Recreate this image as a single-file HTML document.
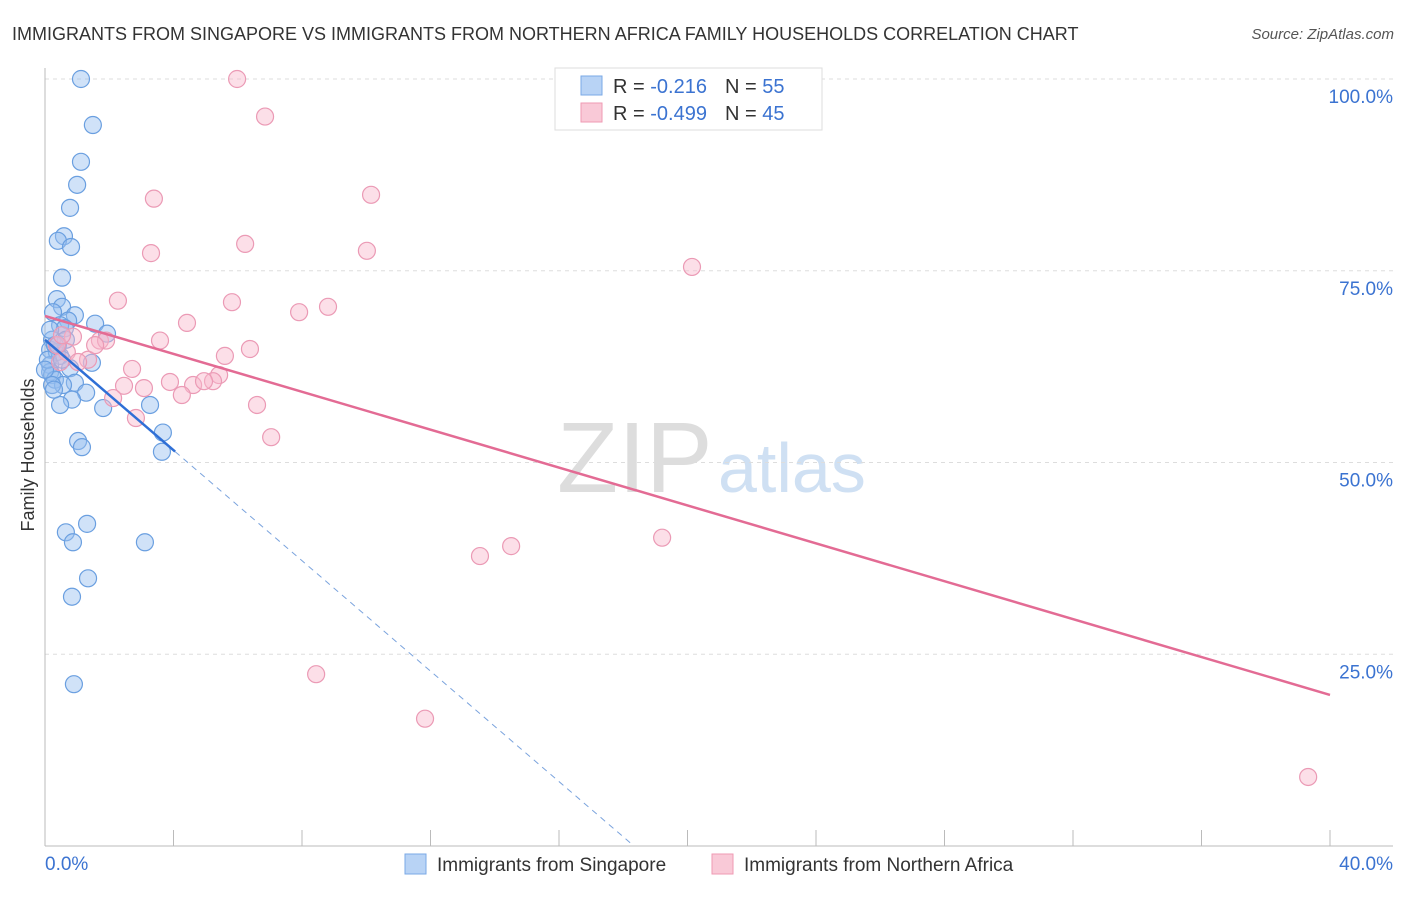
<!DOCTYPE html>
<html><head><meta charset="utf-8"><style>
body{margin:0;background:#fff;font-family:"Liberation Sans",sans-serif;}
svg text{font-family:"Liberation Sans",sans-serif;}
</style></head><body>
<svg id="chart" width="1406" height="892">
<text x="12" y="40" font-size="18" fill="#333">IMMIGRANTS FROM SINGAPORE VS IMMIGRANTS FROM NORTHERN AFRICA FAMILY HOUSEHOLDS CORRELATION CHART</text>
<text x="1394" y="39" font-size="15" fill="#555" font-style="italic" text-anchor="end">Source: ZipAtlas.com</text>
<text x="557" y="492" font-size="100" fill="#ddd" font-family="Liberation Serif">ZIP</text>
<text x="718" y="492" font-size="70" fill="#cfe0f3">atlas</text>
<text transform="translate(34,455) rotate(-90)" font-size="18" fill="#333" text-anchor="middle">Family Households</text>
<g id="grid"></g><g id="marks"></g>
<g>
<rect x="555" y="68" width="267" height="62" fill="#fff" stroke="#ddd"/>
<rect x="581" y="76" width="21" height="19" fill="#b8d3f5" stroke="#7aa8e6"/>
<rect x="581" y="103" width="21" height="19" fill="#f9c9d7" stroke="#ef9ab3"/>
<text x="613" y="93" font-size="20" fill="#333">R = <tspan fill="#3b73d1"> -0.216</tspan><tspan dx="18">N = </tspan><tspan fill="#3b73d1">55</tspan></text>
<text x="613" y="120" font-size="20" fill="#333">R = <tspan fill="#3b73d1">-0.499</tspan><tspan dx="18">N = </tspan><tspan fill="#3b73d1">45</tspan></text>
</g>
<g>
<rect x="405" y="854" width="21" height="20" fill="#b8d3f5" stroke="#7aa8e6"/>
<text x="437" y="871" font-size="19" fill="#333">Immigrants from Singapore</text>
<rect x="712" y="854" width="21" height="20" fill="#f9c9d7" stroke="#ef9ab3"/>
<text x="744" y="871" font-size="19" fill="#333">Immigrants from Northern Africa</text>
</g>
</svg>
<script>
const xTickLabels=["0.0%","40.0%"];
const yTicks=[25,50,75,100];
const blueX=[1.12,1.49,1.12,1.0,0.78,0.59,0.40,0.81,0.53,0.37,0.53,0.25,0.93,0.72,1.56,0.47,0.62,1.93,0.22,0.65,0.16,0.37,0.47,1.46,0.16,0.78,0.16,0.22,0.31,0.93,0.56,0.22,1.28,0.84,3.27,0.47,1.81,3.67,1.03,1.15,3.64,0.65,1.31,0.87,3.11,1.34,0.84,0.90,0.31,0.09,0.40,0.16,0.53,0.28,0];
const blueY=[100,94.0,89.2,86.2,83.2,79.5,78.9,78.1,74.1,71.3,70.3,69.6,69.2,68.5,68.1,67.9,67.5,66.8,66.0,66.0,64.7,64.4,63.9,63.0,62.7,62.3,61.8,61.4,60.8,60.4,60.1,60.1,59.1,58.2,57.5,57.5,57.1,53.9,52.8,52.0,51.4,40.9,42.0,39.6,39.6,34.9,32.5,21.1,65.3,63.4,65.3,67.3,63.4,59.5,62.1];
const pinkX=[5.98,6.85,10.15,3.39,6.23,10.02,3.30,20.14,2.27,5.82,7.91,8.81,4.42,3.58,1.71,0.87,6.38,5.60,0.68,1.34,1.90,0.47,2.71,5.42,3.89,2.46,3.08,4.61,5.23,4.95,4.26,2.12,6.60,2.83,7.04,19.21,14.51,13.54,8.44,11.83,39.32,0.37,0.53,1.56,1.03];
const pinkY=[100,95.1,84.9,84.4,78.5,77.6,77.3,75.5,71.1,70.9,69.6,70.3,68.2,65.9,65.9,66.4,64.8,63.9,64.4,63.4,65.9,63.1,62.2,61.4,60.5,60.0,59.7,60.1,60.6,60.6,58.8,58.4,57.5,55.8,53.3,40.2,39.1,37.8,22.4,16.6,9.0,65.3,66.6,65.3,63.1];
const blueTrend=[66.0,-3.6];
const pinkTrend=[69.1,-1.235];
const NS="http://www.w3.org/2000/svg";
const X0=45,X1=1330,Y0=846,Y100=79;
const sx=v=>X0+(v/40)*(X1-X0);
const sy=v=>Y0-(v/100)*(Y0-Y100);
function mk(tag,attrs,parent){const e=document.createElementNS(NS,tag);for(const k in attrs)e.setAttribute(k,attrs[k]);parent.appendChild(e);return e;}
const grid=document.getElementById('grid'),marks=document.getElementById('marks');
yTicks.forEach(t=>{
 const l=mk('line',{x1:X0,x2:1393,y1:sy(t),y2:sy(t),stroke:'#ddd','stroke-dasharray':'4,4'},grid);
 
 
 const tx=mk('text',{x:1393,y:sy(t)+24,'font-size':19,fill:'#3b73d1','text-anchor':'end'},grid);
 tx.textContent=t.toFixed(1)+'%';
 
 
});
const ax=mk('line',{x1:X0,x2:X0,y1:68,y2:Y0,stroke:'#bbb'},grid);


const bx=mk('line',{x1:X0,x2:1393,y1:Y0,y2:Y0,stroke:'#bbb'},grid);


for(let i=1;i<=10;i++){
 const t=mk('line',{x1:sx(i*4),x2:sx(i*4),y1:Y0-16,y2:Y0,stroke:'#bbb'},grid);
 
 
}
const xl0=mk('text',{x:45,y:870,'font-size':19,fill:'#3b73d1'},grid);xl0.textContent=xTickLabels[0];


const xl1=mk('text',{x:1393,y:870,'font-size':19,fill:'#3b73d1','text-anchor':'end'},grid);xl1.textContent=xTickLabels[1];


blueX.forEach((x,i)=>{
 const c=mk('circle',{cx:sx(x),cy:sy(blueY[i]),r:8.5,fill:'rgba(150,190,240,0.45)',stroke:'#6a9fe0','stroke-width':1.2},marks);
 
 
});
pinkX.forEach((x,i)=>{
 const c=mk('circle',{cx:sx(x),cy:sy(pinkY[i]),r:8.5,fill:'rgba(248,185,205,0.45)',stroke:'#eb9ab5','stroke-width':1.2},marks);
 
 
});
const bEnd=4.05, bZero=-blueTrend[0]/blueTrend[1];
const bl=mk('line',{x1:sx(0),y1:sy(blueTrend[0]),x2:sx(bEnd),y2:sy(blueTrend[0]+blueTrend[1]*bEnd),stroke:'#2f6fd6','stroke-width':2.5},marks);


const bd=mk('line',{x1:sx(bEnd),y1:sy(blueTrend[0]+blueTrend[1]*bEnd),x2:sx(bZero),y2:sy(0),stroke:'#7aa3dd','stroke-width':1,'stroke-dasharray':'6,5'},marks);


const pl=mk('line',{x1:sx(0),y1:sy(pinkTrend[0]),x2:sx(40),y2:sy(pinkTrend[0]+pinkTrend[1]*40),stroke:'#e36b94','stroke-width':2.5},marks);


</script>
</body></html>
